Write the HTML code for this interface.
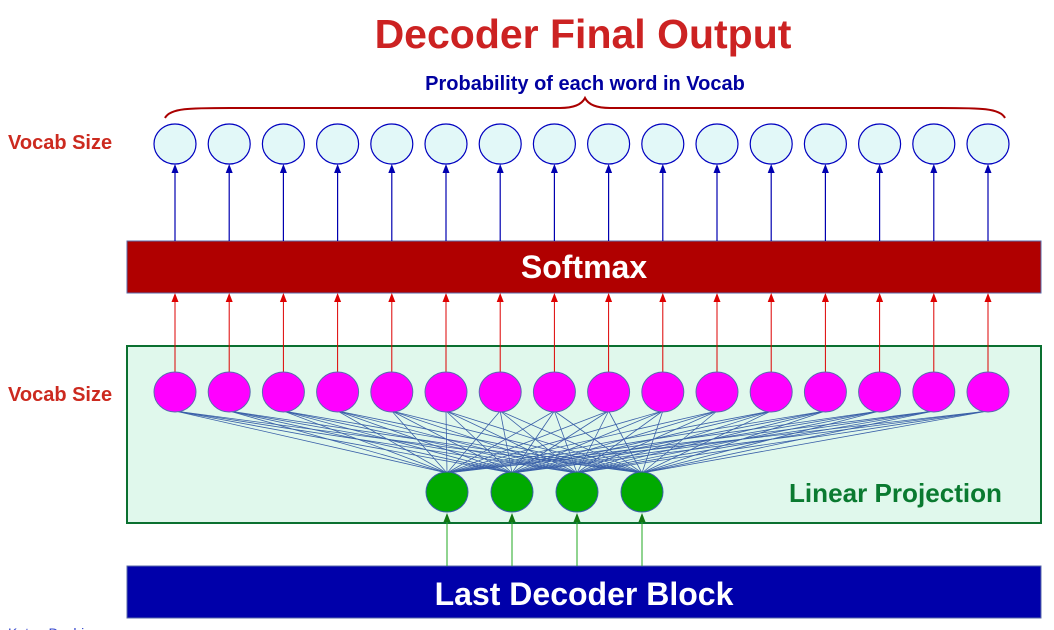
<!DOCTYPE html>
<html><head><meta charset="utf-8">
<style>
html,body{margin:0;padding:0;background:#fff;}
svg{display:block;}
text{font-family:"Liberation Sans",sans-serif;font-weight:bold;}
</style></head>
<body>
<svg id="s" width="1054" height="630" viewBox="0 0 1054 630" xmlns="http://www.w3.org/2000/svg">
<text x="583" y="48" font-size="41" fill="#cc2222" text-anchor="middle">Decoder Final Output</text>
<text x="585" y="90" font-size="20" fill="#0000a0" text-anchor="middle">Probability of each word in Vocab</text>
<path d="M165,118 C170,108 190,108 230,108 L560,108 C575,108 582,104 585,98 C588,104 595,108 610,108 L940,108 C980,108 1000,108 1005,118" fill="none" stroke="#aa0000" stroke-width="2"/>
<text x="8" y="149" font-size="20" fill="#cc2a1f">Vocab Size</text>
<text x="8" y="401" font-size="20" fill="#cc2a1f">Vocab Size</text>
<rect x="127" y="241" width="914" height="52" fill="#b00000" stroke="#5a6aa8" stroke-width="1"/>
<text x="584" y="278" font-size="32" fill="#fff" text-anchor="middle">Softmax</text>
<rect x="127" y="346" width="914" height="177" fill="#e0f8ec" stroke="#0a7030" stroke-width="2"/>
<text x="789" y="502" font-size="26" fill="#0a7a30" textLength="213" lengthAdjust="spacingAndGlyphs">Linear Projection</text>
<rect x="127" y="566" width="914" height="52" fill="#0000aa" stroke="#5a6aa8" stroke-width="1"/>
<text x="584" y="605" font-size="32" fill="#fff" text-anchor="middle">Last Decoder Block</text>
<text x="8" y="638" font-size="14" fill="#3344cc" style="font-weight:normal">Ketan Doshi ...</text>
<g id="g"></g>
</svg>
<script>
var g=document.getElementById('g'),h='';
var gx=[447,512,577,642];
for(var i=0;i<16;i++){var x=175+i*54.2;
 for(var j=0;j<4;j++) h+='<line x1="'+x+'" y1="411" x2="'+gx[j]+'" y2="473" stroke="#3a60a8" stroke-width="0.8"/>';
}
for(var i=0;i<16;i++){var x=175+i*54.2;
 h+='<line x1="'+x+'" y1="241" x2="'+x+'" y2="172" stroke="#0000b0" stroke-width="1.2"/>';
 h+='<path d="M'+(x-3.5)+',173 L'+x+',164 L'+(x+3.5)+',173Z" fill="#0000b0"/>';
 h+='<line x1="'+x+'" y1="372" x2="'+x+'" y2="302" stroke="#dd0000" stroke-width="1"/>';
 h+='<path d="M'+(x-3.5)+',302 L'+x+',293 L'+(x+3.5)+',302Z" fill="#dd0000"/>';
 h+='<ellipse cx="'+x+'" cy="144" rx="21" ry="20" fill="#e2f8f8" stroke="#0000c0" stroke-width="1.2"/>';
 h+='<ellipse cx="'+x+'" cy="392" rx="21" ry="20" fill="#ff00ff" stroke="#5a6ab0" stroke-width="1"/>';
}
for(var j=0;j<4;j++){var x=gx[j];
 h+='<line x1="'+x+'" y1="566" x2="'+x+'" y2="521" stroke="#22aa22" stroke-width="1"/>';
 h+='<path d="M'+(x-3.5)+',522 L'+x+',513 L'+(x+3.5)+',522Z" fill="#117711"/>';
 h+='<ellipse cx="'+x+'" cy="492" rx="21" ry="20" fill="#00aa00" stroke="#3a60a8" stroke-width="1"/>';
}
g.innerHTML=h;
</script>
</body></html>
